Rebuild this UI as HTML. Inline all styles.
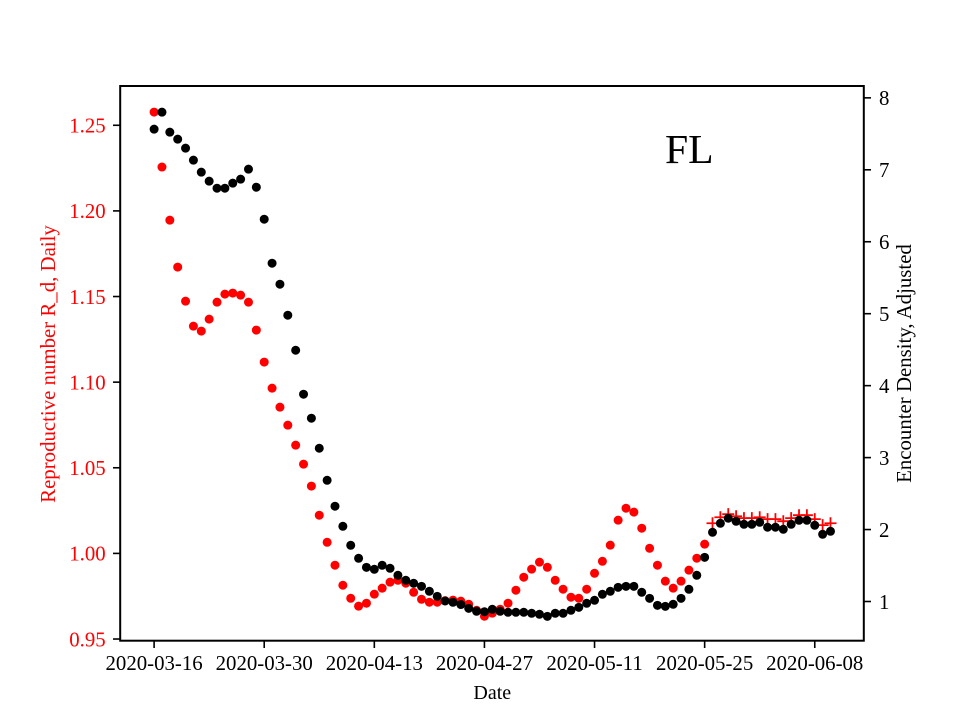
<!DOCTYPE html>
<html lang="en">
<head>
<meta charset="utf-8">
<title>FL reproductive number and encounter density</title>
<style>
html,body{margin:0;padding:0;background:#fff;}
svg{display:block;font-family:"Liberation Serif","Times New Roman",serif;}
</style>
</head>
<body>
<svg id="chart" xmlns="http://www.w3.org/2000/svg" width="960" height="720" viewBox="0 0 960 720">
<rect x="0" y="0" width="960" height="720" fill="#fff"/>
<g id="red-marks"></g>
<g id="black-marks"></g>
<g id="ticks"></g>
<rect x="120.2" y="86" width="743.6" height="554.7" fill="none" stroke="#000" stroke-width="2"/>
<text x="665" y="163" font-size="41.67" fill="#000">FL</text>
<text x="492.3" y="699" font-size="20" text-anchor="middle" fill="#000">Date</text>
<text transform="translate(55,364) rotate(-90)" text-anchor="middle" fill="#f00" font-size="20.83">Reproductive number R_d, Daily</text>
<text transform="translate(911,363.5) rotate(-90)" text-anchor="middle" fill="#000" font-size="20.83">Encounter Density, Adjusted</text>
</svg>
<script>
const NS = 'http://www.w3.org/2000/svg';

const reproductiveDaily = [
1.2577,1.2256,1.1946,1.1672,1.1473,1.1327,1.1298,1.1368,1.1467,1.1514,1.1520,1.1508,1.1467,1.1304,1.1117,
1.0965,1.0854,1.0749,1.0632,1.0521,1.0393,1.0223,1.0065,0.9931,0.9814,0.9738,0.9692,0.9709,0.9762,0.9797,
0.9832,0.9843,0.9826,0.9773,0.9732,0.9715,0.9715,0.9724,0.9727,0.9721,0.9703,0.9668,0.9633,0.9651,0.9674,
0.9709,0.9785,0.9861,0.9908,0.9949,0.9919,0.9843,0.9791,0.9744,0.9738,0.9791,0.9884,0.9954,1.0048,1.0194,
1.0264,1.0241,1.0147,1.0030,0.9931,0.9838,0.9797,0.9838,0.9902,0.9972,1.0054
];
const reproductiveProjected = [
1.0176,1.0211,1.0229,1.0217,1.0206,1.0206,1.0211,1.0200,1.0200,1.0188,1.0206,1.0223,1.0223,1.0200,1.0165,1.0176
];
const encounterDensity = [
7.565,7.801,7.523,7.426,7.301,7.134,6.967,6.842,6.744,6.744,6.814,6.870,7.009,6.758,6.313,
5.702,5.410,4.979,4.492,3.881,3.547,3.130,2.685,2.324,2.045,1.781,1.601,1.475,1.448,1.503,
1.462,1.364,1.295,1.253,1.211,1.142,1.072,1.007,0.989,0.958,0.905,0.864,0.858,0.892,0.864,
0.850,0.850,0.850,0.836,0.822,0.794,0.836,0.836,0.878,0.919,0.975,1.017,1.100,1.142,1.197,
1.211,1.211,1.128,1.044,0.947,0.933,0.961,1.044,1.170,1.364,1.614,1.962,2.087,2.157,2.115,
2.073,2.073,2.101,2.032,2.032,2.004,2.073,2.129,2.129,2.059,1.934,1.976
];
const xTickLabels = ['2020-03-16','2020-03-30','2020-04-13','2020-04-27','2020-05-11','2020-05-25','2020-06-08'];
const xTickDays = [0,14,28,42,56,70,84];
const leftTickValues = [0.95,1.00,1.05,1.10,1.15,1.20,1.25];
const rightTickValues = [1,2,3,4,5,6,7,8];

function xScale(day){ return 154.1 + day * 7.865; }
function yLeft(v){ return 553.4 - (v - 1) * 1712.5; }
function yRight(v){ return 601.5 - (v - 1) * 71.95; }

function make(tag, attrs, parent){
  const el = document.createElementNS(NS, tag);
  for (const k in attrs) el.setAttribute(k, attrs[k]);
  parent.appendChild(el);
  return el;
}

const redGroup = document.getElementById('red-marks');
const blackGroup = document.getElementById('black-marks');
const tickGroup = document.getElementById('ticks');

reproductiveDaily.forEach(function(v, i){
  const c = make('circle', {cx: xScale(i), cy: yLeft(v), r: 4.5, fill: '#f00'}, redGroup);
  
  
});

reproductiveProjected.forEach(function(v, i){
  const x = xScale(i + reproductiveDaily.length);
  const y = yLeft(v);
  const h = 6;
  const p = make('path', {d: 'M' + (x - h) + ' ' + y + 'H' + (x + h) + 'M' + x + ' ' + (y - h) + 'V' + (y + h), stroke: '#f00', 'stroke-width': 1.8, fill: 'none'}, redGroup);
  
  
});

encounterDensity.forEach(function(v, i){
  const c = make('circle', {cx: xScale(i), cy: yRight(v), r: 4.5, fill: '#000'}, blackGroup);
  
  
});

xTickDays.forEach(function(d, i){
  const x = xScale(d);
  const t = make('line', {x1: x, x2: x, y1: 640.7, y2: 648, stroke: '#000', 'stroke-width': 1.6}, tickGroup);
  
  
  const l = make('text', {x: x, y: 670, 'text-anchor': 'middle', 'font-size': 20.83, fill: '#000'}, tickGroup);
  
  
  l.textContent = xTickLabels[i];
});

leftTickValues.forEach(function(v){
  const y = yLeft(v);
  const t = make('line', {x1: 113, x2: 120, y1: y, y2: y, stroke: '#000', 'stroke-width': 1.6}, tickGroup);
  
  
  const l = make('text', {x: 105.7, y: y + 7.3, 'text-anchor': 'end', 'font-size': 20.83, fill: '#f00'}, tickGroup);
  
  
  l.textContent = v.toFixed(2);
});

rightTickValues.forEach(function(v){
  const y = yRight(v);
  const t = make('line', {x1: 864, x2: 871, y1: y, y2: y, stroke: '#000', 'stroke-width': 1.6}, tickGroup);
  
  
  const l = make('text', {x: 879, y: y + 7.3, 'font-size': 20.83, fill: '#000'}, tickGroup);
  
  
  l.textContent = String(v);
});
</script>
</body>
</html>
